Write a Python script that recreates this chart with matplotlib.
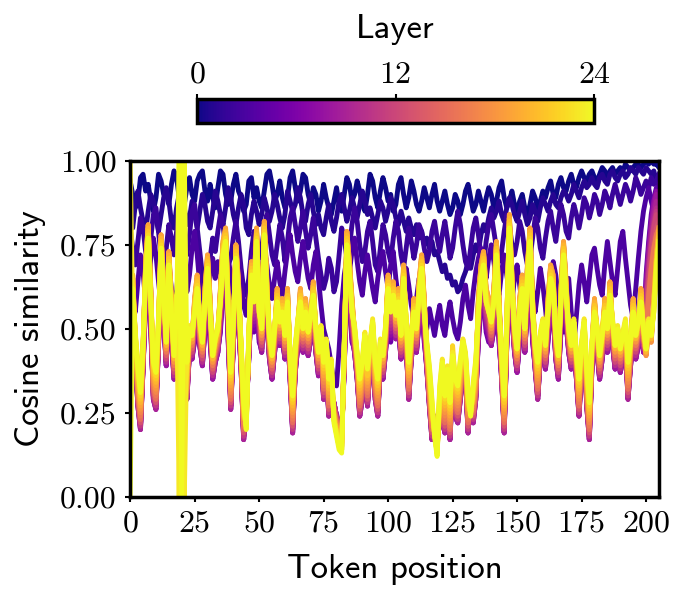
import numpy as np
import matplotlib
matplotlib.use('Agg')
import matplotlib.pyplot as plt
from matplotlib.ticker import FormatStrFormatter

# cosine similarity (x100) per token position, one list per layer
l00 = [94, 90, 86, 88, 95, 96, 91, 93, 88, 85,
       89, 96, 94, 90, 91, 87, 93, 97, 95, 89,
       86, 87, 92, 95, 90, 88, 94, 96, 97, 91,
       88, 93, 89, 86, 92, 97, 96, 90, 87, 88,
       93, 96, 91, 89, 85, 87, 94, 95, 89, 92,
       88, 86, 91, 96, 97, 93, 88, 90, 94, 89,
       86, 89, 95, 97, 92, 88, 91, 96, 95, 90,
       87, 92, 90, 85, 88, 93, 89, 86, 84, 88,
       92, 87, 85, 90, 95, 93, 88, 90, 94, 91,
       87, 85, 90, 96, 94, 89, 86, 91, 95, 92,
       88, 90, 85, 87, 93, 95, 90, 86, 89, 94,
       91, 87, 85, 88, 92, 89, 86, 90, 93, 88,
       85, 88, 91, 87, 84, 86, 90, 88, 84, 87,
       91, 93, 89, 85, 87, 91, 88, 85, 89, 92,
       90, 86, 88, 92, 94, 89, 86, 88, 91, 87,
       85, 88, 90, 86, 84, 87, 91, 89, 86, 88,
       91, 89, 92, 94, 90, 89, 93, 95, 92, 91,
       94, 96, 93, 92, 95, 97, 95, 94, 96, 97,
       95, 94, 96, 98, 97, 95, 97, 98, 96, 97,
       98, 97, 99, 98, 97, 98, 99, 99, 98, 99,
       100, 99, 100, 99, 99, 98]
l01 = [84, 80, 87, 91, 86, 82, 79, 85, 90, 88,
       83, 79, 84, 89, 92, 88, 82, 80, 86, 90,
       91, 86, 81, 83, 88, 84, 80, 85, 90, 87,
       82, 80, 85, 91, 88, 84, 81, 86, 92, 89,
       84, 81, 86, 90, 87, 80, 78, 84, 88, 85,
       81, 84, 89, 86, 82, 85, 90, 87, 83, 80,
       84, 91, 88, 85, 87, 92, 89, 84, 82, 87,
       90, 85, 81, 84, 80, 78, 83, 87, 82, 79,
       83, 88, 90, 86, 82, 85, 89, 86, 83, 87,
       91, 88, 84, 86, 83, 80, 84, 88, 86, 82,
       85, 89, 87, 83, 81, 85, 82, 79, 83, 80,
       78, 81, 77, 79, 75, 77, 74, 76, 72, 73,
       70, 67, 69, 65, 66, 63, 64, 61, 62, 65,
       67, 70, 68, 72, 75, 73, 78, 81, 79, 83,
       86, 83, 85, 88, 84, 82, 86, 89, 87, 84,
       82, 85, 88, 84, 81, 83, 87, 85, 82, 86,
       89, 87, 85, 88, 90, 87, 86, 89, 91, 90,
       88, 90, 93, 91, 89, 92, 94, 92, 93, 95,
       93, 92, 95, 96, 94, 93, 96, 97, 95, 94,
       96, 97, 95, 96, 98, 97, 96, 98, 97, 96,
       98, 97, 96, 97, 94, 92]
l02 = [80, 74, 69, 76, 83, 80, 73, 70, 77, 84,
       86, 79, 71, 68, 74, 81, 77, 72, 79, 85,
       82, 75, 72, 78, 85, 87, 80, 73, 66, 62,
       64, 71, 77, 73, 79, 84, 81, 74, 69, 71,
       77, 82, 76, 68, 62, 60, 65, 73, 79, 76,
       71, 74, 80, 84, 78, 72, 69, 75, 81, 77,
       70, 76, 83, 86, 81, 76, 80, 85, 79, 74,
       78, 83, 77, 71, 66, 62, 65, 71, 68, 61,
       64, 72, 80, 77, 71, 74, 81, 86, 82, 75,
       70, 73, 79, 82, 76, 69, 67, 74, 81, 78,
       73, 70, 77, 82, 79, 72, 68, 74, 80, 76,
       71, 75, 81, 79, 74, 70, 73, 79, 82, 77,
       73, 78, 82, 77, 71, 74, 80, 85, 81, 75,
       70, 68, 74, 80, 83, 78, 72, 69, 76, 81,
       84, 79, 74, 70, 73, 79, 84, 81, 75, 72,
       76, 82, 79, 73, 69, 71, 77, 83, 80, 74,
       71, 77, 82, 85, 80, 76, 82, 87, 84, 79,
       77, 83, 87, 84, 80, 84, 89, 87, 83, 86,
       90, 88, 84, 87, 91, 89, 86, 90, 93, 90,
       87, 90, 93, 91, 88, 91, 95, 93, 90, 92,
       94, 92, 95, 93, 94, 96]
l03 = [68, 59, 55, 64, 72, 67, 58, 62, 71, 77,
       72, 64, 57, 63, 73, 69, 62, 55, 61, 70,
       76, 69, 61, 66, 74, 79, 72, 63, 59, 55,
       58, 66, 71, 65, 70, 68, 60, 63, 71, 66,
       59, 66, 72, 65, 57, 54, 61, 70, 74, 67,
       61, 67, 74, 69, 63, 59, 65, 70, 64, 60,
       67, 73, 78, 72, 67, 64, 71, 76, 70, 65,
       62, 69, 73, 65, 57, 50, 47, 44, 39, 34,
       33, 44, 57, 66, 71, 67, 73, 77, 70, 64,
       60, 67, 72, 67, 62, 58, 65, 70, 73, 67,
       62, 69, 73, 65, 59, 54, 61, 68, 63, 57,
       53, 59, 65, 57, 52, 50, 56, 52, 48, 53,
       57, 51, 48, 54, 58, 53, 49, 47, 52, 59,
       63, 57, 53, 61, 67, 71, 74, 69, 65, 71,
       75, 70, 64, 60, 67, 72, 66, 61, 58, 65,
       69, 63, 57, 52, 60, 67, 62, 55, 61, 68,
       63, 56, 48, 60, 70, 66, 59, 54, 49, 57,
       65, 55, 45, 54, 63, 69, 64, 58, 65, 72,
       74, 68, 63, 60, 69, 76, 70, 64, 60, 68,
       76, 79, 71, 64, 57, 53, 62, 71, 79, 85,
       89, 92, 88, 85, 90, 93]
l04 = [63, 65, 44, 28, 21, 41, 69, 80, 61, 30,
       27, 48, 77, 63, 42, 72, 58, 38, 58, 65,
       46, 41, 30, 46, 44, 58, 65, 48, 42, 61,
       71, 58, 38, 43, 46, 61, 75, 79, 58, 27,
       48, 74, 63, 41, 18, 25, 44, 69, 61, 79,
       58, 46, 81, 63, 44, 38, 46, 61, 48, 58,
       44, 61, 38, 20, 40, 48, 61, 46, 58, 45,
       50, 63, 46, 39, 46, 30, 42, 25, 30, 27,
       23, 19, 18, 41, 78, 69, 58, 46, 38, 25,
       30, 44, 28, 41, 48, 30, 25, 42, 38, 46,
       65, 58, 63, 50, 61, 44, 68, 48, 30, 44,
       58, 46, 63, 71, 58, 41, 28, 18, 23, 17,
       22, 30, 20, 28, 18, 38, 25, 23, 30, 42,
       38, 20, 29, 23, 30, 58, 68, 72, 61, 58,
       48, 61, 75, 58, 38, 20, 48, 83, 65, 46,
       40, 58, 65, 46, 68, 79, 58, 41, 30, 44,
       48, 41, 58, 68, 65, 44, 38, 61, 75, 63,
       46, 41, 48, 38, 25, 41, 48, 28, 18, 41,
       58, 46, 38, 44, 58, 46, 63, 48, 41, 46,
       40, 44, 48, 30, 42, 58, 44, 48, 61, 46,
       66, 76, 84, 89, 92, 90]
l05 = [51, 53, 42, 29, 22, 39, 57, 68, 49, 31,
       28, 46, 65, 51, 40, 60, 46, 36, 46, 53,
       44, 39, 31, 44, 42, 46, 53, 46, 40, 49,
       59, 46, 36, 41, 44, 49, 63, 67, 46, 28,
       46, 62, 51, 39, 19, 26, 42, 57, 49, 67,
       46, 44, 69, 51, 42, 36, 44, 49, 46, 46,
       42, 49, 36, 21, 38, 46, 49, 44, 46, 43,
       48, 51, 44, 37, 44, 31, 40, 26, 31, 28,
       24, 20, 19, 39, 66, 57, 46, 44, 36, 26,
       31, 42, 29, 39, 46, 31, 26, 40, 36, 44,
       53, 46, 51, 48, 49, 42, 56, 46, 31, 42,
       46, 44, 51, 59, 46, 39, 29, 19, 24, 18,
       23, 31, 21, 29, 19, 36, 26, 24, 31, 40,
       36, 21, 30, 24, 31, 46, 56, 60, 49, 46,
       46, 49, 63, 46, 36, 21, 46, 71, 53, 44,
       38, 46, 53, 44, 56, 67, 46, 39, 31, 42,
       46, 39, 46, 56, 53, 42, 36, 49, 63, 51,
       44, 39, 46, 36, 26, 39, 46, 29, 19, 39,
       46, 44, 36, 42, 46, 44, 51, 46, 39, 44,
       38, 42, 46, 31, 40, 46, 42, 46, 49, 44,
       60, 70, 78, 85, 89, 87]
l06 = [52, 54, 41, 28, 21, 38, 58, 69, 50, 30,
       27, 45, 66, 52, 39, 61, 47, 35, 47, 54,
       43, 38, 30, 43, 41, 47, 54, 45, 39, 50,
       60, 47, 35, 40, 43, 50, 64, 68, 47, 27,
       45, 63, 52, 38, 18, 26, 41, 58, 50, 68,
       47, 43, 70, 52, 41, 35, 43, 50, 45, 47,
       41, 50, 35, 20, 37, 45, 50, 43, 47, 42,
       47, 52, 43, 36, 43, 30, 39, 25, 30, 28,
       24, 20, 19, 38, 67, 58, 47, 43, 35, 25,
       30, 41, 28, 38, 45, 30, 25, 39, 35, 43,
       54, 47, 52, 47, 50, 41, 57, 45, 30, 41,
       47, 43, 52, 60, 47, 38, 28, 18, 24, 18,
       22, 30, 20, 28, 18, 35, 25, 23, 30, 39,
       35, 20, 30, 23, 30, 47, 57, 61, 50, 47,
       45, 50, 64, 47, 35, 20, 45, 72, 54, 43,
       37, 47, 54, 43, 57, 68, 47, 38, 30, 41,
       45, 38, 47, 57, 54, 41, 35, 50, 64, 52,
       43, 38, 45, 35, 25, 38, 45, 28, 18, 38,
       47, 43, 35, 41, 47, 43, 52, 45, 38, 43,
       37, 41, 45, 30, 39, 47, 41, 45, 50, 43,
       62, 72, 80, 86, 90, 88]
l07 = [53, 55, 41, 27, 20, 38, 59, 70, 51, 29,
       26, 45, 67, 53, 39, 62, 48, 35, 48, 55,
       43, 38, 29, 43, 41, 48, 55, 45, 39, 51,
       61, 48, 35, 40, 43, 51, 65, 69, 48, 26,
       45, 64, 53, 38, 17, 26, 41, 59, 51, 69,
       48, 43, 71, 53, 41, 35, 43, 51, 45, 48,
       41, 51, 35, 19, 37, 45, 51, 43, 48, 42,
       47, 53, 43, 36, 43, 29, 39, 24, 29, 28,
       24, 20, 19, 38, 68, 59, 48, 43, 35, 24,
       29, 41, 27, 38, 45, 29, 24, 39, 35, 43,
       55, 48, 53, 47, 51, 41, 58, 45, 29, 41,
       48, 43, 53, 61, 48, 38, 27, 17, 24, 18,
       21, 29, 19, 27, 17, 35, 24, 22, 29, 39,
       35, 19, 30, 22, 29, 48, 58, 62, 51, 48,
       45, 51, 65, 48, 35, 19, 45, 73, 55, 43,
       37, 48, 55, 43, 58, 69, 48, 38, 29, 41,
       45, 38, 48, 58, 55, 41, 35, 51, 65, 53,
       43, 38, 45, 35, 24, 38, 45, 27, 17, 38,
       48, 43, 35, 41, 48, 43, 53, 45, 38, 43,
       37, 41, 45, 29, 39, 48, 41, 45, 51, 43,
       64, 74, 82, 88, 91, 90]
l08 = [54, 56, 41, 27, 20, 38, 60, 71, 52, 29,
       26, 45, 68, 54, 39, 63, 49, 35, 49, 56,
       43, 38, 29, 43, 41, 49, 56, 45, 39, 52,
       62, 49, 35, 40, 43, 52, 66, 70, 49, 26,
       45, 65, 54, 38, 17, 26, 41, 60, 52, 70,
       49, 43, 72, 54, 41, 35, 43, 52, 45, 49,
       41, 52, 35, 19, 37, 45, 52, 43, 49, 42,
       47, 54, 43, 36, 43, 29, 39, 24, 29, 28,
       24, 20, 19, 38, 69, 60, 49, 43, 35, 24,
       29, 41, 27, 38, 45, 29, 24, 39, 35, 43,
       56, 49, 54, 47, 52, 41, 59, 45, 29, 41,
       49, 43, 54, 62, 49, 38, 27, 17, 24, 18,
       21, 29, 19, 27, 17, 35, 24, 22, 29, 39,
       35, 19, 30, 22, 29, 49, 59, 63, 52, 49,
       45, 52, 66, 49, 35, 19, 45, 74, 56, 43,
       37, 49, 56, 43, 59, 70, 49, 38, 29, 41,
       45, 38, 49, 59, 56, 41, 35, 52, 66, 54,
       43, 38, 45, 35, 24, 38, 45, 27, 17, 38,
       49, 43, 35, 41, 49, 43, 54, 45, 38, 43,
       37, 41, 45, 29, 39, 49, 41, 45, 52, 43,
       62, 72, 80, 86, 90, 88]
l09 = [55, 57, 42, 27, 20, 39, 61, 72, 53, 29,
       26, 46, 69, 55, 40, 64, 50, 36, 50, 57,
       44, 39, 29, 44, 42, 50, 57, 46, 40, 53,
       63, 50, 36, 41, 44, 53, 67, 71, 50, 26,
       46, 66, 55, 39, 17, 26, 42, 61, 53, 71,
       50, 44, 73, 55, 42, 36, 44, 53, 46, 50,
       42, 53, 36, 19, 38, 46, 53, 44, 50, 43,
       48, 55, 44, 37, 44, 29, 40, 24, 29, 28,
       24, 20, 19, 39, 70, 61, 50, 44, 36, 24,
       29, 42, 27, 39, 46, 29, 24, 40, 36, 44,
       57, 50, 55, 48, 53, 42, 60, 46, 29, 42,
       50, 44, 55, 63, 50, 39, 27, 17, 24, 18,
       21, 29, 19, 27, 17, 36, 24, 22, 29, 40,
       36, 19, 30, 22, 29, 50, 60, 64, 53, 50,
       46, 53, 67, 50, 36, 19, 46, 75, 57, 44,
       38, 50, 57, 44, 60, 71, 50, 39, 29, 42,
       46, 39, 50, 60, 57, 42, 36, 53, 67, 55,
       44, 39, 46, 36, 24, 39, 46, 27, 17, 39,
       50, 44, 36, 42, 50, 44, 55, 46, 39, 44,
       38, 42, 46, 29, 40, 50, 42, 46, 53, 44,
       60, 70, 78, 84, 88, 86]
l10 = [56, 58, 42, 28, 21, 39, 62, 73, 54, 30,
       27, 46, 70, 56, 40, 65, 51, 36, 51, 58,
       44, 39, 30, 44, 42, 51, 58, 46, 40, 54,
       64, 51, 36, 41, 44, 54, 68, 72, 51, 27,
       46, 67, 56, 39, 18, 26, 42, 62, 54, 72,
       51, 44, 74, 56, 42, 36, 44, 54, 46, 51,
       42, 54, 36, 20, 38, 46, 54, 44, 51, 43,
       48, 56, 44, 37, 44, 30, 40, 25, 30, 28,
       24, 20, 19, 39, 71, 62, 51, 44, 36, 25,
       30, 42, 28, 39, 46, 30, 25, 40, 36, 44,
       58, 51, 56, 48, 54, 42, 61, 46, 30, 42,
       51, 44, 56, 64, 51, 39, 28, 18, 24, 18,
       22, 30, 20, 28, 18, 36, 25, 23, 30, 40,
       36, 20, 30, 23, 30, 51, 61, 65, 54, 51,
       46, 54, 68, 51, 36, 20, 46, 76, 58, 44,
       38, 51, 58, 44, 61, 72, 51, 39, 30, 42,
       46, 39, 51, 61, 58, 42, 36, 54, 68, 56,
       44, 39, 46, 36, 25, 39, 46, 28, 18, 39,
       51, 44, 36, 42, 51, 44, 56, 46, 39, 44,
       38, 42, 46, 30, 40, 51, 42, 46, 54, 44,
       58, 68, 76, 82, 86, 84]
l11 = [57, 59, 43, 28, 21, 40, 63, 74, 55, 30,
       27, 47, 71, 57, 41, 66, 52, 37, 52, 59,
       45, 40, 30, 45, 43, 52, 59, 47, 41, 55,
       65, 52, 37, 42, 45, 55, 69, 73, 52, 27,
       47, 68, 57, 40, 18, 25, 43, 63, 55, 73,
       52, 45, 75, 57, 43, 37, 45, 55, 47, 52,
       43, 55, 37, 20, 39, 47, 55, 45, 52, 44,
       49, 57, 45, 38, 45, 30, 41, 25, 30, 27,
       23, 19, 18, 40, 72, 63, 52, 45, 37, 25,
       30, 43, 28, 40, 47, 30, 25, 41, 37, 45,
       59, 52, 57, 49, 55, 43, 62, 47, 30, 43,
       52, 45, 57, 65, 52, 40, 28, 18, 23, 17,
       22, 30, 20, 28, 18, 37, 25, 23, 30, 41,
       37, 20, 29, 23, 30, 52, 62, 66, 55, 52,
       47, 55, 69, 52, 37, 20, 47, 77, 59, 45,
       39, 52, 59, 45, 62, 73, 52, 40, 30, 43,
       47, 40, 52, 62, 59, 43, 37, 55, 69, 57,
       45, 40, 47, 37, 25, 40, 47, 28, 18, 40,
       52, 45, 37, 43, 52, 45, 57, 47, 40, 45,
       39, 43, 47, 30, 41, 52, 43, 47, 55, 45,
       56, 66, 75, 81, 85, 83]
l12 = [58, 60, 43, 29, 22, 40, 64, 75, 56, 31,
       28, 47, 72, 58, 41, 67, 53, 37, 53, 60,
       45, 40, 31, 45, 43, 53, 60, 47, 41, 56,
       66, 53, 37, 42, 45, 56, 70, 74, 53, 28,
       47, 69, 58, 40, 19, 25, 43, 64, 56, 74,
       53, 45, 76, 58, 43, 37, 45, 56, 47, 53,
       43, 56, 37, 21, 39, 47, 56, 45, 53, 44,
       49, 58, 45, 38, 45, 31, 41, 26, 31, 27,
       23, 19, 18, 40, 73, 64, 53, 45, 37, 26,
       31, 43, 29, 40, 47, 31, 26, 41, 37, 45,
       60, 53, 58, 49, 56, 43, 63, 47, 31, 43,
       53, 45, 58, 66, 53, 40, 29, 19, 23, 17,
       23, 31, 21, 29, 19, 37, 26, 24, 31, 41,
       37, 21, 29, 24, 31, 53, 63, 67, 56, 53,
       47, 56, 70, 53, 37, 21, 47, 78, 60, 45,
       39, 53, 60, 45, 63, 74, 53, 40, 31, 43,
       47, 40, 53, 63, 60, 43, 37, 56, 70, 58,
       45, 40, 47, 37, 26, 40, 47, 29, 19, 40,
       53, 45, 37, 43, 53, 45, 58, 47, 40, 45,
       39, 43, 47, 31, 41, 53, 43, 47, 56, 45,
       55, 65, 74, 80, 84, 82]
l13 = [59, 61, 44, 29, 22, 41, 65, 76, 57, 31,
       28, 48, 73, 59, 42, 68, 54, 38, 54, 61,
       46, 41, 31, 46, 44, 54, 61, 48, 42, 57,
       67, 54, 38, 43, 46, 57, 71, 75, 54, 28,
       48, 70, 59, 41, 19, 25, 44, 65, 57, 75,
       54, 46, 77, 59, 44, 38, 46, 57, 48, 54,
       44, 57, 38, 21, 40, 48, 57, 46, 54, 45,
       50, 59, 46, 39, 46, 31, 42, 26, 31, 27,
       23, 19, 18, 41, 74, 65, 54, 46, 38, 26,
       31, 44, 29, 41, 48, 31, 26, 42, 38, 46,
       61, 54, 59, 50, 57, 44, 64, 48, 31, 44,
       54, 46, 59, 67, 54, 41, 29, 19, 23, 17,
       23, 31, 21, 29, 19, 38, 26, 24, 31, 42,
       38, 21, 29, 24, 31, 54, 64, 68, 57, 54,
       48, 57, 71, 54, 38, 21, 48, 79, 61, 46,
       40, 54, 61, 46, 64, 75, 54, 41, 31, 44,
       48, 41, 54, 64, 61, 44, 38, 57, 71, 59,
       46, 41, 48, 38, 26, 41, 48, 29, 19, 41,
       54, 46, 38, 44, 54, 46, 59, 48, 41, 46,
       40, 44, 48, 31, 42, 54, 44, 48, 57, 46,
       52, 62, 70, 76, 80, 82]
l14 = [60, 62, 44, 30, 23, 41, 66, 77, 58, 32,
       29, 48, 74, 60, 42, 69, 55, 38, 55, 62,
       46, 41, 32, 46, 44, 55, 62, 48, 42, 58,
       68, 55, 38, 43, 46, 58, 72, 76, 55, 29,
       48, 71, 60, 41, 20, 24, 44, 66, 58, 76,
       55, 46, 78, 60, 44, 38, 46, 58, 48, 55,
       44, 58, 38, 22, 40, 48, 58, 46, 55, 45,
       50, 60, 46, 39, 46, 32, 42, 27, 32, 26,
       22, 18, 17, 41, 75, 66, 55, 46, 38, 27,
       32, 44, 30, 41, 48, 32, 27, 42, 38, 46,
       62, 55, 60, 50, 58, 44, 65, 48, 32, 44,
       55, 46, 60, 68, 55, 41, 30, 20, 22, 16,
       24, 32, 22, 30, 20, 38, 27, 25, 32, 42,
       38, 22, 28, 25, 32, 55, 65, 69, 58, 55,
       48, 58, 72, 55, 38, 22, 48, 80, 62, 46,
       40, 55, 62, 46, 65, 76, 55, 41, 32, 44,
       48, 41, 55, 65, 62, 44, 38, 58, 72, 60,
       46, 41, 48, 38, 27, 41, 48, 30, 20, 41,
       55, 46, 38, 44, 55, 46, 60, 48, 41, 46,
       40, 44, 48, 32, 42, 55, 44, 48, 58, 46,
       50, 60, 68, 74, 78, 80]
l15 = [61, 63, 45, 30, 23, 42, 67, 78, 59, 32,
       29, 49, 75, 61, 43, 70, 56, 39, 56, 63,
       47, 42, 32, 47, 45, 56, 63, 49, 43, 59,
       69, 56, 39, 44, 47, 59, 73, 77, 56, 29,
       49, 72, 61, 42, 20, 24, 45, 67, 59, 77,
       56, 47, 79, 61, 45, 39, 47, 59, 49, 56,
       45, 59, 39, 22, 41, 49, 59, 47, 56, 46,
       51, 61, 47, 40, 47, 32, 43, 27, 32, 26,
       22, 18, 17, 42, 76, 67, 56, 47, 39, 27,
       32, 45, 30, 42, 49, 32, 27, 43, 39, 47,
       63, 56, 61, 51, 59, 45, 66, 49, 32, 45,
       56, 47, 61, 69, 56, 42, 30, 20, 22, 16,
       24, 32, 22, 30, 20, 39, 27, 25, 32, 43,
       39, 22, 28, 25, 32, 56, 66, 70, 59, 56,
       49, 59, 73, 56, 39, 22, 49, 81, 63, 47,
       41, 56, 63, 47, 66, 77, 56, 42, 32, 45,
       49, 42, 56, 66, 63, 45, 39, 59, 73, 61,
       47, 42, 49, 39, 27, 42, 49, 30, 20, 42,
       56, 47, 39, 45, 56, 47, 61, 49, 42, 47,
       41, 45, 49, 32, 43, 56, 45, 49, 59, 47,
       48, 58, 66, 72, 76, 78]
l16 = [62, 64, 45, 31, 24, 42, 68, 79, 60, 33,
       30, 49, 76, 62, 43, 71, 57, 39, 57, 64,
       47, 42, 33, 47, 45, 57, 64, 49, 43, 60,
       70, 57, 39, 44, 47, 60, 74, 78, 57, 30,
       49, 73, 62, 42, 21, 24, 45, 68, 60, 78,
       57, 47, 80, 62, 45, 39, 47, 60, 49, 57,
       45, 60, 39, 23, 41, 49, 60, 47, 57, 46,
       51, 62, 47, 40, 47, 33, 43, 28, 33, 26,
       22, 18, 17, 42, 77, 68, 57, 47, 39, 28,
       33, 45, 31, 42, 49, 33, 28, 43, 39, 47,
       64, 57, 62, 51, 60, 45, 67, 49, 33, 45,
       57, 47, 62, 70, 57, 42, 31, 21, 22, 16,
       25, 33, 23, 31, 21, 39, 28, 26, 33, 43,
       39, 23, 28, 26, 33, 57, 67, 71, 60, 57,
       49, 60, 74, 57, 39, 23, 49, 82, 64, 47,
       41, 57, 64, 47, 67, 78, 57, 42, 33, 45,
       49, 42, 57, 67, 64, 45, 39, 60, 74, 62,
       47, 42, 49, 39, 28, 42, 49, 31, 21, 42,
       57, 47, 39, 45, 57, 47, 62, 49, 42, 47,
       41, 45, 49, 33, 43, 57, 45, 49, 60, 47,
       50, 60, 68, 74, 78, 80]
l17 = [63, 65, 46, 32, 25, 43, 69, 80, 61, 34,
       31, 50, 77, 63, 44, 72, 58, 40, 58, 65,
       48, 43, 34, 48, 46, 58, 65, 50, 44, 61,
       71, 58, 40, 45, 48, 61, 75, 79, 58, 31,
       50, 74, 63, 43, 22, 23, 46, 69, 61, 79,
       58, 48, 81, 63, 46, 40, 48, 61, 50, 58,
       46, 61, 40, 24, 42, 50, 61, 48, 58, 47,
       52, 63, 48, 41, 48, 34, 44, 29, 34, 25,
       21, 17, 16, 43, 78, 69, 58, 48, 40, 29,
       34, 46, 32, 43, 50, 34, 29, 44, 40, 48,
       65, 58, 63, 52, 61, 46, 68, 50, 34, 46,
       58, 48, 63, 71, 58, 43, 32, 22, 21, 15,
       26, 34, 24, 32, 22, 40, 29, 27, 34, 44,
       40, 24, 27, 27, 34, 58, 68, 72, 61, 58,
       50, 61, 75, 58, 40, 24, 50, 83, 65, 48,
       42, 58, 65, 48, 68, 79, 58, 43, 34, 46,
       50, 43, 58, 68, 65, 46, 40, 61, 75, 63,
       48, 43, 50, 40, 29, 43, 50, 32, 22, 43,
       58, 48, 40, 46, 58, 48, 63, 50, 43, 48,
       42, 46, 50, 34, 44, 58, 46, 50, 61, 48,
       42, 50, 46, 58, 71, 79]
l18 = [64, 66, 46, 33, 26, 43, 70, 81, 62, 35,
       32, 50, 78, 64, 44, 73, 59, 40, 59, 66,
       48, 43, 35, 48, 46, 59, 66, 50, 44, 62,
       72, 59, 40, 45, 48, 62, 76, 80, 59, 32,
       50, 75, 64, 43, 23, 23, 46, 70, 62, 80,
       59, 48, 82, 64, 46, 40, 48, 62, 50, 59,
       46, 62, 40, 25, 42, 50, 62, 48, 59, 47,
       52, 64, 48, 41, 48, 35, 44, 30, 35, 25,
       21, 17, 16, 43, 79, 70, 59, 48, 40, 30,
       35, 46, 33, 43, 50, 35, 30, 44, 40, 48,
       66, 59, 64, 52, 62, 46, 69, 50, 35, 46,
       59, 48, 64, 72, 59, 43, 33, 23, 21, 15,
       27, 35, 25, 33, 23, 40, 30, 28, 35, 44,
       40, 25, 27, 28, 35, 59, 69, 73, 62, 59,
       50, 62, 76, 59, 40, 25, 50, 84, 66, 48,
       42, 59, 66, 48, 69, 80, 59, 43, 35, 46,
       50, 43, 59, 69, 66, 46, 40, 62, 76, 64,
       48, 43, 50, 40, 30, 43, 50, 33, 23, 43,
       59, 48, 40, 46, 59, 48, 64, 50, 43, 48,
       42, 46, 50, 35, 44, 59, 46, 50, 62, 48,
       42, 50, 46, 59, 72, 80]
l19 = [64, 66, 47, 34, 27, 44, 70, 81, 62, 36,
       33, 51, 78, 64, 45, 73, 59, 41, 59, 66,
       49, 44, 36, 49, 47, 59, 66, 51, 45, 62,
       72, 59, 41, 46, 49, 62, 76, 80, 59, 33,
       51, 75, 64, 44, 24, 22, 47, 70, 62, 80,
       59, 49, 82, 64, 47, 41, 49, 62, 51, 59,
       47, 62, 41, 26, 43, 51, 62, 49, 59, 48,
       53, 64, 49, 42, 49, 36, 45, 31, 36, 24,
       20, 16, 15, 44, 79, 70, 59, 49, 41, 31,
       36, 47, 34, 44, 51, 36, 31, 45, 41, 49,
       66, 59, 64, 53, 62, 47, 69, 51, 36, 47,
       59, 49, 64, 72, 59, 44, 34, 24, 20, 14,
       28, 36, 26, 34, 24, 41, 31, 29, 36, 45,
       41, 26, 26, 29, 36, 59, 69, 73, 62, 59,
       51, 62, 76, 59, 41, 26, 51, 84, 66, 49,
       43, 59, 66, 49, 69, 80, 59, 44, 36, 47,
       51, 44, 59, 69, 66, 47, 41, 62, 76, 64,
       49, 44, 51, 41, 31, 44, 51, 34, 24, 44,
       59, 49, 41, 47, 59, 49, 64, 51, 44, 49,
       43, 47, 51, 36, 45, 59, 47, 51, 62, 49,
       43, 51, 47, 59, 72, 80]
l20 = [63, 65, 47, 35, 28, 44, 69, 80, 61, 37,
       34, 51, 77, 63, 45, 72, 58, 41, 58, 65,
       49, 44, 37, 49, 47, 58, 65, 51, 45, 61,
       71, 58, 41, 46, 49, 61, 75, 79, 58, 34,
       51, 74, 63, 44, 25, 22, 47, 69, 61, 79,
       58, 49, 81, 63, 47, 41, 49, 61, 51, 58,
       47, 61, 41, 27, 43, 51, 61, 49, 58, 48,
       53, 63, 49, 42, 49, 37, 45, 32, 37, 24,
       20, 16, 15, 44, 78, 69, 58, 49, 41, 32,
       37, 47, 35, 44, 51, 37, 32, 45, 41, 49,
       65, 58, 63, 53, 61, 47, 68, 51, 37, 47,
       58, 49, 63, 71, 58, 44, 35, 25, 20, 14,
       29, 37, 27, 35, 25, 41, 32, 30, 37, 45,
       41, 27, 26, 30, 37, 58, 68, 72, 61, 58,
       51, 61, 75, 58, 41, 27, 51, 83, 65, 49,
       43, 58, 65, 49, 68, 79, 58, 44, 37, 47,
       51, 44, 58, 68, 65, 47, 41, 61, 75, 63,
       49, 44, 51, 41, 32, 44, 51, 35, 25, 44,
       58, 49, 41, 47, 58, 49, 63, 51, 44, 49,
       43, 47, 51, 37, 45, 58, 47, 51, 61, 49,
       43, 51, 47, 58, 71, 79]
l21 = [62, 64, 48, 36, 29, 45, 68, 79, 60, 38,
       35, 52, 76, 62, 46, 71, 57, 42, 57, 64,
       50, 45, 38, 50, 48, 57, 64, 52, 46, 60,
       70, 57, 42, 47, 50, 60, 74, 78, 57, 35,
       52, 73, 62, 45, 26, 21, 48, 68, 60, 78,
       57, 50, 80, 62, 48, 42, 50, 60, 52, 57,
       48, 60, 42, 28, 44, 52, 60, 50, 57, 49,
       54, 62, 50, 43, 50, 38, 46, 33, 38, 23,
       19, 15, 14, 45, 77, 68, 57, 50, 42, 33,
       38, 48, 36, 45, 52, 38, 33, 46, 42, 50,
       64, 57, 62, 54, 60, 48, 67, 52, 38, 48,
       57, 50, 62, 70, 57, 45, 36, 26, 19, 13,
       30, 38, 28, 36, 26, 42, 33, 31, 38, 46,
       42, 28, 25, 31, 38, 57, 67, 71, 60, 57,
       52, 60, 74, 57, 42, 28, 52, 82, 64, 50,
       44, 57, 64, 50, 67, 78, 57, 45, 38, 48,
       52, 45, 57, 67, 64, 48, 42, 60, 74, 62,
       50, 45, 52, 42, 33, 45, 52, 36, 26, 45,
       57, 50, 42, 48, 57, 50, 62, 52, 45, 50,
       44, 48, 52, 38, 46, 57, 48, 52, 60, 50,
       44, 52, 48, 57, 70, 78]
l22 = [61, 63, 48, 40, 30, 45, 67, 78, 59, 39,
       36, 52, 75, 61, 46, 70, 56, 42, 56, 63,
       50, 45, 39, 50, 48, 56, 63, 55, 46, 59,
       69, 56, 42, 47, 50, 59, 73, 77, 56, 36,
       52, 72, 61, 45, 27, 21, 48, 67, 59, 77,
       56, 50, 79, 61, 48, 45, 50, 59, 52, 56,
       48, 59, 42, 29, 44, 52, 59, 50, 56, 49,
       54, 61, 50, 43, 50, 39, 46, 34, 39, 23,
       19, 15, 14, 45, 76, 67, 56, 50, 42, 34,
       39, 48, 40, 45, 52, 39, 34, 46, 42, 50,
       63, 56, 61, 54, 59, 48, 66, 52, 39, 48,
       56, 50, 61, 69, 56, 45, 37, 27, 19, 13,
       31, 39, 29, 37, 27, 45, 34, 32, 39, 46,
       42, 29, 25, 32, 39, 56, 66, 70, 59, 56,
       52, 59, 73, 56, 42, 29, 52, 81, 63, 50,
       44, 56, 63, 50, 66, 77, 56, 45, 39, 48,
       52, 48, 56, 66, 63, 48, 42, 59, 73, 61,
       50, 45, 52, 42, 34, 45, 52, 37, 27, 45,
       56, 50, 42, 51, 56, 50, 61, 52, 45, 50,
       44, 48, 52, 39, 46, 56, 48, 52, 59, 50,
       44, 52, 48, 56, 69, 77]
l23 = [100, 55, 49, 39, 32, 46, 66, 77, 58, 41,
       38, 53, 74, 60, 47, 69, 55, 43, 60, 0,
       100, 0, 45, 51, 49, 55, 62, 53, 47, 58,
       68, 55, 43, 48, 51, 58, 72, 76, 55, 38,
       53, 71, 60, 46, 29, 21, 49, 66, 58, 76,
       55, 51, 78, 60, 49, 43, 51, 58, 53, 55,
       49, 58, 43, 31, 45, 53, 58, 51, 55, 50,
       55, 60, 51, 44, 51, 41, 47, 36, 41, 23,
       19, 15, 14, 46, 75, 66, 55, 51, 43, 36,
       41, 49, 39, 46, 53, 41, 36, 47, 43, 51,
       62, 55, 60, 55, 58, 49, 65, 53, 41, 49,
       55, 51, 60, 68, 55, 46, 39, 29, 19, 13,
       33, 41, 31, 39, 29, 43, 36, 34, 41, 47,
       43, 31, 25, 34, 41, 55, 65, 69, 58, 55,
       53, 58, 72, 55, 43, 31, 53, 80, 62, 51,
       45, 55, 62, 51, 65, 76, 55, 46, 41, 49,
       53, 46, 55, 65, 62, 49, 43, 58, 72, 60,
       51, 46, 53, 43, 36, 46, 53, 39, 29, 46,
       55, 51, 43, 49, 55, 51, 60, 53, 46, 51,
       45, 49, 53, 41, 47, 55, 49, 53, 58, 51,
       45, 53, 49, 55, 68, 76]
l24 = [0, 62, 48, 38, 31, 45, 66, 77, 58, 40,
       37, 52, 74, 60, 46, 69, 55, 42, 55, 100,
       0, 100, 40, 50, 48, 55, 62, 52, 46, 58,
       68, 55, 42, 47, 50, 58, 72, 76, 55, 37,
       52, 71, 60, 45, 28, 20, 48, 66, 58, 76,
       55, 50, 78, 60, 48, 42, 50, 58, 52, 55,
       48, 58, 42, 30, 44, 52, 58, 50, 55, 49,
       54, 60, 50, 43, 50, 40, 46, 35, 40, 22,
       18, 14, 13, 45, 75, 66, 55, 50, 42, 35,
       40, 48, 38, 45, 52, 40, 35, 46, 42, 50,
       62, 55, 60, 54, 58, 48, 65, 52, 40, 48,
       55, 50, 60, 68, 55, 45, 38, 28, 18, 12,
       32, 40, 30, 38, 28, 42, 35, 33, 40, 46,
       42, 30, 24, 33, 40, 55, 65, 69, 58, 55,
       52, 58, 72, 55, 42, 30, 52, 80, 62, 50,
       44, 55, 62, 50, 65, 76, 55, 45, 40, 48,
       52, 45, 55, 65, 62, 48, 42, 58, 72, 60,
       50, 45, 52, 42, 35, 45, 52, 38, 28, 45,
       55, 50, 42, 48, 55, 50, 60, 52, 45, 50,
       44, 48, 52, 40, 46, 55, 48, 52, 58, 50,
       44, 52, 48, 55, 68, 76]

layers = [l00, l01, l02, l03, l04, l05, l06, l07, l08, l09, l10, l11, l12,
          l13, l14, l15, l16, l17, l18, l19, l20, l21, l22, l23, l24]
n_layers = len(layers) - 1

plt.rcParams['font.family'] = 'cmr10'
plt.rcParams['mathtext.fontset'] = 'cm'
plt.rcParams['axes.formatter.use_mathtext'] = True

fig = plt.figure(figsize=(6.85, 6.0), dpi=100)
ax = fig.add_axes([0.190, 0.172, 0.772, 0.560])
cmap = plt.get_cmap('plasma')
norm = matplotlib.colors.Normalize(vmin=0, vmax=n_layers)

for k, vals in enumerate(layers):
    y = np.array(vals) / 100.0
    ax.plot(np.arange(len(y)), y, color=cmap(norm(k)), lw=3.5)

ax.set_xlim(0, 205)
ax.set_ylim(0, 1)
ax.set_xticks([0, 25, 50, 75, 100, 125, 150, 175, 200])
ax.set_yticks([0, 0.25, 0.5, 0.75, 1.0])
ax.yaxis.set_major_formatter(FormatStrFormatter('%.2f'))
ax.tick_params(labelsize=23, width=1.5, length=3.5, pad=6)
for s in ax.spines.values():
    s.set_linewidth(2.5)
ax.set_xlabel('Token position', fontfamily='cmss10', fontsize=25, labelpad=12)
ax.set_ylabel('Cosine similarity', fontfamily='cmss10', fontsize=25, labelpad=10)

# colourbar on top
cax = fig.add_axes([0.2876, 0.795, 0.5796, 0.040])
sm = matplotlib.cm.ScalarMappable(norm=norm, cmap=cmap)
cb = fig.colorbar(sm, cax=cax, orientation='horizontal', ticks=[0, 12, 24])
cb.outline.set_linewidth(2.5)
cax.xaxis.set_ticks_position('top')
cax.xaxis.set_label_position('top')
cax.tick_params(labelsize=23, width=1.5, length=3.5, pad=3.8)
cb.set_label('Layer', fontfamily='cmss10', fontsize=25, labelpad=17)

plt.savefig('out.png', dpi=100)
